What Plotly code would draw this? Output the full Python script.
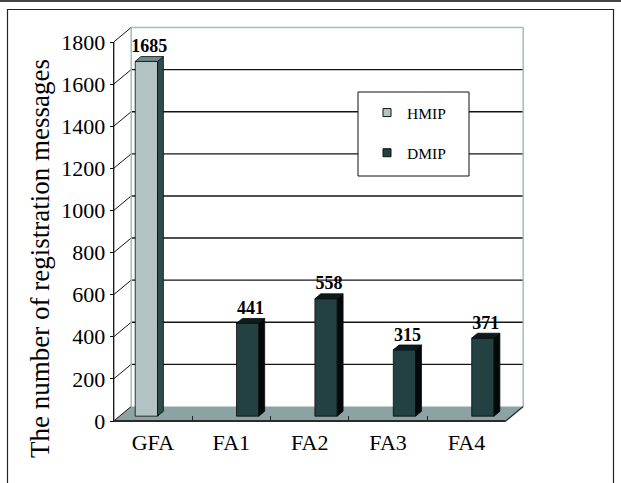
import plotly.graph_objects as go

# ---------------- data ----------------
categories = ["GFA", "FA1", "FA2", "FA3", "FA4"]
hmip_values = [1685, None, None, None, None]
dmip_values = [None, 441, 558, 315, 371]
y_tick_values = [0, 200, 400, 600, 800, 1000, 1200, 1400, 1600, 1800]
series_names = ["HMIP", "DMIP"]

# ---------------- geometry (pixels) ----------------
FIG_W, FIG_H = 621, 483
PX_X0 = 113.7            # pixel of front-left corner (x = -0.5)
PX_PER_CAT = 78.4
PX_Y0 = 421.0            # pixel of value 0 on the front axis
PX_PER_UNIT = 379.0 / 1800.0
DEPTH_PX_X = 17.5
DEPTH_PX_Y = 14.5

PLOT_L, PLOT_R, PLOT_T, PLOT_B = 104, 534, 18, 428
W = PLOT_R - PLOT_L
H = PLOT_B - PLOT_T
xmin = -0.5 - (PX_X0 - PLOT_L) / PX_PER_CAT
xmax = xmin + W / PX_PER_CAT
ymin = -(PLOT_B - PX_Y0) / PX_PER_UNIT
ymax = ymin + H / PX_PER_UNIT
DX = DEPTH_PX_X / PX_PER_CAT
DY = DEPTH_PX_Y / PX_PER_UNIT
N = len(categories)
X_LEFT, X_RIGHT = -0.5, N - 0.5
TOP_V = y_tick_values[-1]


def paper(px, py):
    return (px - PLOT_L) / W, (PLOT_B - py) / H


# bar layout
F1 = 1 / 3      # depth fraction of bar front face
DD = 1 / 3      # bar depth fraction
BAR_W = 0.285
OFFSETS = {"HMIP": -0.300, "DMIP": -0.008}
COLORS = {
    "HMIP": dict(front="#b3c3c3", side="#2f4c4c", top="#6f8b8b"),
    "DMIP": dict(front="#234141", side="#050808", top="#0c1c1c"),
}
FONT = "Liberation Serif"
GRID = "#141414"
WALL_EDGE = "#a3bcbc"
FLOOR = "#8ba3a3"

fig = go.Figure()

# ---------------- decorations (shapes below traces) ----------------
shapes = []
# floor
shapes.append(dict(type="path", xref="x", yref="y", layer="below",
                   path=f"M{X_LEFT},0 L{X_RIGHT},0 L{X_RIGHT+DX},{DY} L{X_LEFT+DX},{DY} Z",
                   fillcolor=FLOOR, line=dict(width=0)))
# back wall gridlines
for v in y_tick_values[1:-1]:
    shapes.append(dict(type="line", xref="x", yref="y", layer="below",
                       x0=X_LEFT + DX, x1=X_RIGHT + DX, y0=v + DY, y1=v + DY,
                       line=dict(color=GRID, width=1.4)))
# side wall diagonals
for v in y_tick_values:
    shapes.append(dict(type="line", xref="x", yref="y", layer="below",
                       x0=X_LEFT, x1=X_LEFT + DX, y0=v, y1=v + DY,
                       line=dict(color=GRID, width=1)))
# back wall border (light)
for (x0, y0, x1, y1) in [(X_LEFT + DX, DY, X_LEFT + DX, TOP_V + DY),
                         (X_LEFT + DX, TOP_V + DY, X_RIGHT + DX, TOP_V + DY),
                         (X_RIGHT + DX, DY, X_RIGHT + DX, TOP_V + DY)]:
    shapes.append(dict(type="line", xref="x", yref="y", layer="below",
                       x0=x0, x1=x1, y0=y0, y1=y1,
                       line=dict(color=WALL_EDGE, width=1.5)))
# front axis line
shapes.append(dict(type="line", xref="x", yref="y", layer="below",
                   x0=X_LEFT, x1=X_LEFT, y0=0, y1=TOP_V,
                   line=dict(color="#111111", width=1.3)))
# floor front and right edges
shapes.append(dict(type="line", xref="x", yref="y", layer="below",
                   x0=X_LEFT, x1=X_RIGHT, y0=0, y1=0,
                   line=dict(color="#2a2a2a", width=2)))
shapes.append(dict(type="line", xref="x", yref="y", layer="below",
                   x0=X_RIGHT, x1=X_RIGHT + DX, y0=0, y1=DY,
                   line=dict(color="#2a2a2a", width=1.3)))

# legend box
lx0, ly0 = paper(358, 92)
lx1, ly1 = paper(469, 176)
shapes.append(dict(type="rect", xref="paper", yref="paper", layer="above",
                   x0=lx0, x1=lx1, y0=ly1, y1=ly0,
                   fillcolor="white", line=dict(color="#111111", width=1)))
# outer frame
fx0, fy0 = paper(7.5, 9.5)
fx1, fy1 = paper(613.5, 495)
shapes.append(dict(type="rect", xref="paper", yref="paper", layer="above",
                   x0=fx0, x1=fx1, y0=fy1, y1=fy0,
                   fillcolor="rgba(0,0,0,0)", line=dict(color="#222222", width=1.2)))
tx0, ty0 = paper(0, 1)
tx1, _ = paper(FIG_W, 1)
shapes.append(dict(type="line", xref="paper", yref="paper", layer="above",
                   x0=tx0, x1=tx1, y0=ty0, y1=ty0,
                   line=dict(color="#444444", width=2)))

# ---------------- bars ----------------
series_values = {"HMIP": hmip_values, "DMIP": dmip_values}
for name in series_names:
    vals = series_values[name]
    off = OFFSETS[name]
    col = COLORS[name]
    fig.add_trace(go.Bar(
        x=[i + F1 * DX for i in range(N)], y=vals, base=F1 * DY,
        offset=off, width=BAR_W, name=name, showlegend=False,
        marker=dict(color=col["front"], line=dict(color="#0a0a0a", width=0.8)),
        hoverinfo="skip"))
    side_x, side_y, top_x, top_y, lab_x, lab_y, lab_t = [], [], [], [], [], [], []
    for i, v in enumerate(vals):
        if v is None:
            continue
        L = i + F1 * DX + off
        R = L + BAR_W
        B = F1 * DY
        T = B + v
        ddx, ddy = DD * DX, DD * DY
        side_x += [R, R + ddx, R + ddx, R, R, None]
        side_y += [B, B + ddy, T + ddy, T, B, None]
        top_x += [L, R, R + ddx, L + ddx, L, None]
        top_y += [T, T, T + ddy, T + ddy, T, None]
        lab_x.append((L + R) / 2 + ddx / 2)
        lab_y.append(T + ddy)
        lab_t.append(str(v))
    fig.add_trace(go.Scatter(x=side_x, y=side_y, mode="lines", fill="toself",
                             fillcolor=col["side"], line=dict(color="#0a0a0a", width=0.8),
                             showlegend=False, hoverinfo="skip"))
    fig.add_trace(go.Scatter(x=top_x, y=top_y, mode="lines", fill="toself",
                             fillcolor=col["top"], line=dict(color="#0a0a0a", width=0.8),
                             showlegend=False, hoverinfo="skip"))
    fig.add_trace(go.Scatter(x=lab_x, y=lab_y, mode="text", text=lab_t,
                             textposition="top center", cliponaxis=False,
                             textfont=dict(family=FONT, size=18, color="black", weight="bold"),
                             showlegend=False, hoverinfo="skip"))

# legend entries
for name in series_names:
    fig.add_trace(go.Scatter(x=[None], y=[None], mode="markers", name=name,
                             legendgroup=name,
                             marker=dict(symbol="square", size=8, color=COLORS[name]["front"],
                                         line=dict(color="#111111", width=1))))

# y-axis title
ax, ay = paper(40, 259)
annotations = [dict(xref="paper", yref="paper", x=ax, y=ay, showarrow=False,
                    text="The number of registration messages", textangle=-90,
                    font=dict(family=FONT, size=27, color="black"),
                    xanchor="center", yanchor="middle")]

lgx, lgy = paper(367, 96)
fig.update_layout(
    width=FIG_W, height=FIG_H,
    margin=dict(l=PLOT_L, r=FIG_W - PLOT_R, t=PLOT_T, b=FIG_H - PLOT_B, pad=0),
    paper_bgcolor="white", plot_bgcolor="rgba(0,0,0,0)",
    barmode="overlay",
    shapes=shapes, annotations=annotations,
    showlegend=True,
    legend=dict(x=lgx, y=lgy, xanchor="left", yanchor="top",
                bgcolor="rgba(0,0,0,0)", borderwidth=0,
                font=dict(family=FONT, size=15.5, color="black"),
                tracegroupgap=17, itemsizing="trace"),
    font=dict(family=FONT, color="black"),
    xaxis=dict(range=[xmin, xmax], anchor="free", position=paper(0, PX_Y0)[1],
               tickmode="array", tickvals=list(range(N)), ticktext=categories,
               ticks="", showline=False, showgrid=False, zeroline=False,
               ticklabelstandoff=6,
               tickfont=dict(family=FONT, size=22, color="black"),
               minor=dict(tickmode="array", tickvals=[i + 0.5 for i in range(N - 1)],
                          ticks="inside", ticklen=5, tickcolor="#222222", tickwidth=1,
                          showgrid=False),
               fixedrange=True),
    yaxis=dict(range=[ymin, ymax], anchor="free", position=paper(PX_X0, 0)[0],
               tickmode="array", tickvals=y_tick_values,
               ticks="outside", ticklen=4, tickcolor="#111111", tickwidth=1,
               showline=False, showgrid=False, zeroline=False,
               tickfont=dict(family=FONT, size=22, color="black"),
               fixedrange=True),
)

fig.write_html("out.html", config={"displayModeBar": False},
               post_script="document.body.style.margin='0';document.body.style.padding='0';"
                           "document.documentElement.style.overflow='hidden';")
